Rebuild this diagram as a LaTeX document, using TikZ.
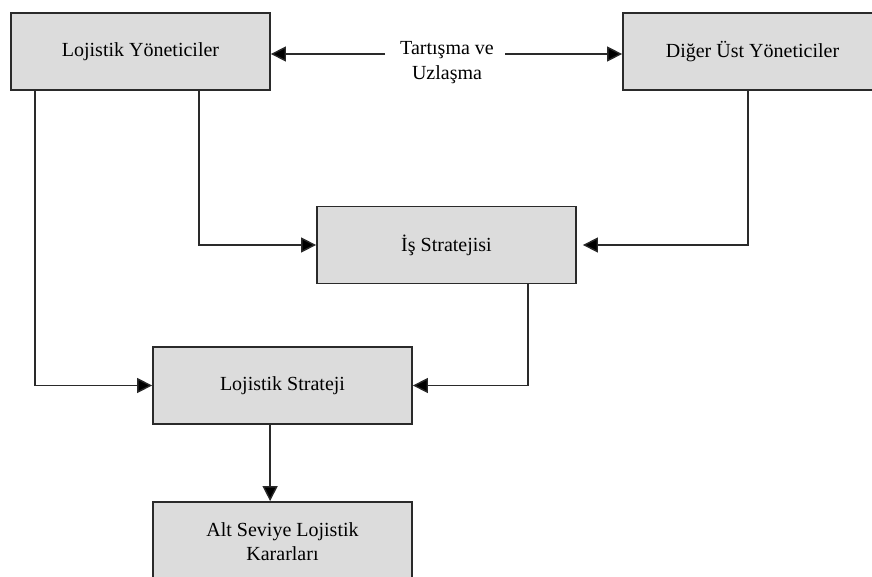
\documentclass[tikz,border=0pt]{standalone}
\usepackage{fontspec}
\setmainfont{Liberation Serif}
\usetikzlibrary{arrows.meta,positioning}
\definecolor{boxfill}{HTML}{DCDCDC}
\definecolor{edge}{HTML}{2A2A2A}
\tikzset{
  box/.style={draw=edge, line width=1.8pt, fill=boxfill, minimum width=259pt, minimum height=77pt,
    inner sep=0pt, align=center, font=\fontsize{20}{24}\selectfont},
  conn/.style={draw=edge, line width=1.4pt, -{Triangle[length=15pt,width=15pt,fill=black]}},
  lbl/.style={align=center, font=\fontsize{20}{25}\selectfont, inner sep=0pt}
}
\begin{document}
\begin{tikzpicture}[x=1pt,y=-1pt]
\useasboundingbox (0,0) rectangle (872,577);
\clip (0,0) rectangle (872,577);
\fill[white] (0,0) rectangle (872,577);
\node[box] (LY) at (140.5,51.5) {Lojistik Yöneticiler};
\node[box] (DU) at (752.5,51.5) {Diğer Üst Yöneticiler};
\node[box] (IS) at (446.5,245) {İş Stratejisi};
\node[box] (LS) at (282.5,385.5) {Lojistik Strateji};
\node[box, minimum height=80pt] (AS) at (282.5,542) {Alt Seviye Lojistik\\Kararları};
\node[lbl] (L) at (447,63) {Tartışma ve\\Uzlaşma};
\coordinate (la) at (385,54);
\coordinate (ra) at (505,54);
\draw[conn] (la) -- (LY.east |- la);
\draw[conn] (ra) -- (DU.west |- ra);
\draw[conn] ([xshift=25pt]LY.south west) |- (LS.west);
\draw[conn] ([xshift=189pt]LY.south west) |- (IS.west);
\draw[conn, shorten >=6pt] ([xshift=126pt]DU.south west) |- (IS.east);
\draw[conn] ([xshift=212pt]IS.south west) |- (LS.east);
\coordinate (ls) at ([xshift=118pt]LS.south west);
\draw[conn] (ls) -- (ls |- AS.north);
\end{tikzpicture}
\end{document}
